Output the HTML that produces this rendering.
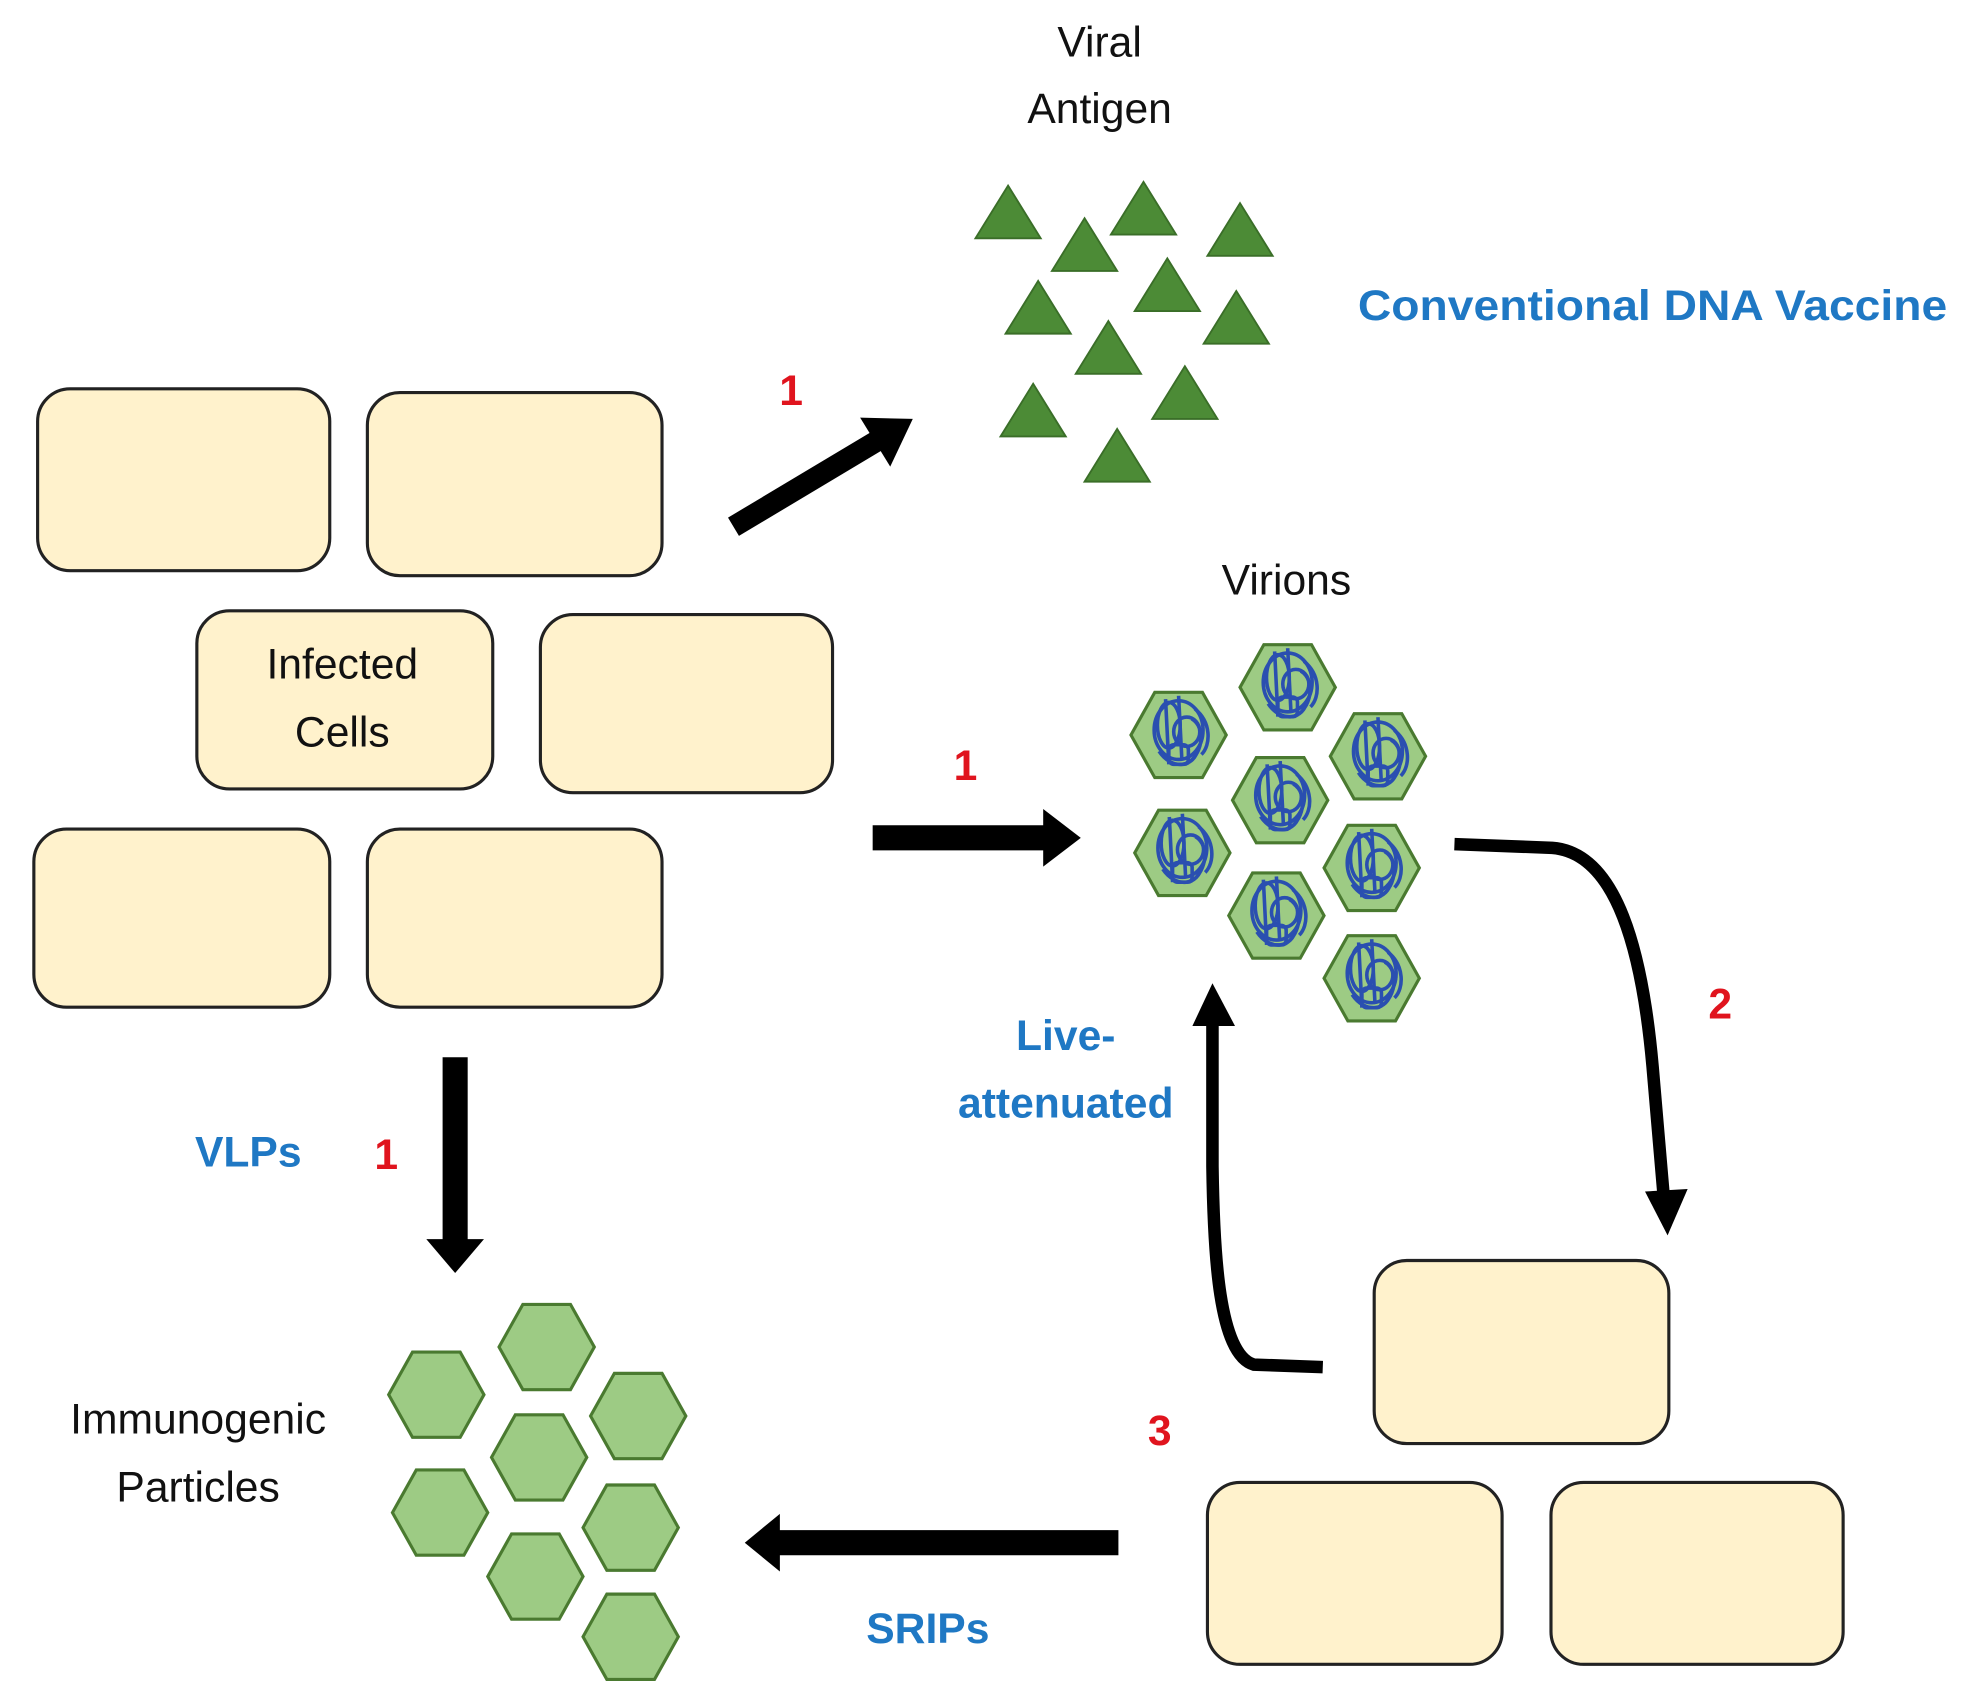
<!DOCTYPE html>
<html><head><meta charset="utf-8"><style>
html,body{margin:0;padding:0;background:#fff;}
svg{display:block;}
.cell{fill:#FFF2CC;stroke:#222;stroke-width:2.5;}
.tri{fill:#4C8B36;stroke:#3A6E28;stroke-width:1.5;}
.hex{fill:#9DCB84;stroke:#4A7A30;stroke-width:2.5;}
.bk{font-family:"Liberation Sans",sans-serif;font-size:34px;fill:#111;text-anchor:middle;}
.bl{font-family:"Liberation Sans",sans-serif;font-size:34px;font-weight:bold;fill:#1F78C4;text-anchor:middle;}
.rd{font-family:"Liberation Sans",sans-serif;font-size:34px;font-weight:bold;fill:#E0141E;text-anchor:middle;}
</style></head><body>
<svg width="1966" height="1707" viewBox="0 0 1568 1361" preserveAspectRatio="none" xmlns="http://www.w3.org/2000/svg">
<defs>
<polygon id="hx" points="-38,0 -19,-34 19,-34 38,0 19,34 -19,34"/>
<g id="scr" fill="none" stroke="#2A4FB0" stroke-width="2.2" transform="scale(1.3)">
<ellipse cx="0" cy="-3" rx="15" ry="18"/>
<ellipse cx="-6" cy="-6" rx="7" ry="14"/>
<ellipse cx="5" cy="-2" rx="8" ry="9"/>
<path d="M-8,-22 L-6,18 M0,-24 L2,15 M8,-10 C18,-4 14,14 4,18 M-12,10 C-4,22 10,20 12,8 M10,-16 C20,-8 20,6 14,12"/>
<rect x="-6" y="6" width="12" height="12" rx="3"/>
</g>
<g id="tr"><polygon class="tri" points="0,0 26,42 -26,42"/></g>
</defs>

<rect class="cell" x="30" y="310" width="233" height="145" rx="26"/>
<rect class="cell" x="293" y="313" width="235" height="146" rx="26"/>
<rect class="cell" x="157" y="487" width="236" height="142" rx="26"/>
<rect class="cell" x="431" y="490" width="233" height="142" rx="26"/>
<rect class="cell" x="27" y="661" width="236" height="142" rx="26"/>
<rect class="cell" x="293" y="661" width="235" height="142" rx="26"/>
<rect class="cell" x="1096" y="1005" width="235" height="146" rx="26"/>
<rect class="cell" x="963" y="1182" width="235" height="145" rx="26"/>
<rect class="cell" x="1237" y="1182" width="233" height="145" rx="26"/>

<use href="#tr" x="804" y="148"/><use href="#tr" x="865" y="174"/><use href="#tr" x="912" y="145"/>
<use href="#tr" x="989" y="162"/><use href="#tr" x="828" y="224"/><use href="#tr" x="931" y="206"/>
<use href="#tr" x="986" y="232"/><use href="#tr" x="884" y="256"/><use href="#tr" x="824" y="306"/>
<use href="#tr" x="945" y="292"/><use href="#tr" x="891" y="342"/>

<g>
<use href="#hx" class="hex" x="940" y="586"/><use href="#scr" x="940" y="586"/>
<use href="#hx" class="hex" x="1027" y="548"/><use href="#scr" x="1027" y="548"/>
<use href="#hx" class="hex" x="1099" y="603"/><use href="#scr" x="1099" y="603"/>
<use href="#hx" class="hex" x="1021" y="638"/><use href="#scr" x="1021" y="638"/>
<use href="#hx" class="hex" x="943" y="680"/><use href="#scr" x="943" y="680"/>
<use href="#hx" class="hex" x="1094" y="692"/><use href="#scr" x="1094" y="692"/>
<use href="#hx" class="hex" x="1018" y="730"/><use href="#scr" x="1018" y="730"/>
<use href="#hx" class="hex" x="1094" y="780"/><use href="#scr" x="1094" y="780"/>
</g>

<use href="#hx" class="hex" x="348" y="1112"/><use href="#hx" class="hex" x="436" y="1074"/>
<use href="#hx" class="hex" x="509" y="1129"/><use href="#hx" class="hex" x="430" y="1162"/>
<use href="#hx" class="hex" x="351" y="1206"/><use href="#hx" class="hex" x="503" y="1218"/>
<use href="#hx" class="hex" x="427" y="1257"/><use href="#hx" class="hex" x="503" y="1305"/>

<line x1="585" y1="420" x2="702" y2="350" stroke="#000" stroke-width="17"/>
<polygon points="710,372 728,334 686,333" fill="#000"/>
<line x1="696" y1="668" x2="836" y2="668" stroke="#000" stroke-width="20"/>
<polygon points="832,645 862,668 832,691" fill="#000"/>
<line x1="363" y1="843" x2="363" y2="990" stroke="#000" stroke-width="20"/>
<polygon points="340,988 386,988 363,1015" fill="#000"/>
<line x1="892" y1="1230" x2="620" y2="1230" stroke="#000" stroke-width="20"/>
<polygon points="622,1207 594,1230 622,1253" fill="#000"/>

<path d="M1160,673 L1238,676 C1290,680 1310,760 1318,850 L1327,955" fill="none" stroke="#000" stroke-width="10"/>
<polygon points="1312,950 1346,948 1330,985" fill="#000"/>
<path d="M1055,1090 L1000,1088 C972,1080 968,1000 967,930 L967,815" fill="none" stroke="#000" stroke-width="10"/>
<polygon points="951,818 985,818 967,784" fill="#000"/>

<text class="bk" x="877" y="45">Viral</text>
<text class="bk" x="877" y="98">Antigen</text>
<text class="bk" x="273" y="541">Infected</text>
<text class="bk" x="273" y="595">Cells</text>
<text class="bk" x="1026" y="474">Virions</text>
<text class="bk" x="158" y="1143">Immunogenic</text>
<text class="bk" x="158" y="1197">Particles</text>

<text class="bl" x="1318" y="255" textLength="470" lengthAdjust="spacingAndGlyphs">Conventional DNA Vaccine</text>
<text class="bl" x="850" y="837">Live-</text>
<text class="bl" x="850" y="891">attenuated</text>
<text class="bl" x="198" y="930">VLPs</text>
<text class="bl" x="740" y="1310">SRIPs</text>

<text class="rd" x="631" y="323">1</text>
<text class="rd" x="770" y="622">1</text>
<text class="rd" x="308" y="932">1</text>
<text class="rd" x="1372" y="812">2</text>
<text class="rd" x="925" y="1152">3</text>
</svg>
</body></html>
